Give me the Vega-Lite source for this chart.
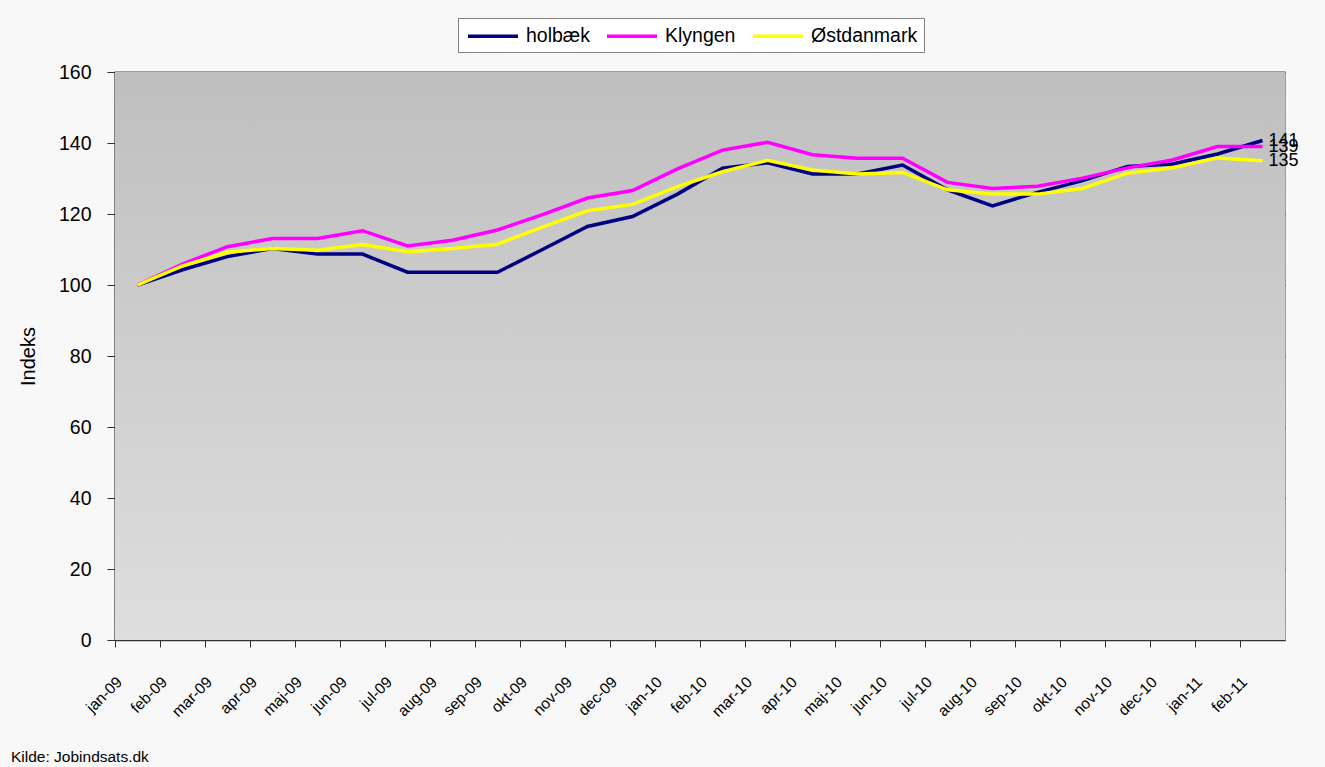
{
  "$schema": "https://vega.github.io/schema/vega-lite/v6.json",
  "autosize": {"type": "none"},
  "width": 1170,
  "height": 568,
  "padding": {"left": 115, "top": 72, "right": 40, "bottom": 127},
  "background": "#f8f8f8",
  "config": {
    "font": "Liberation Sans",
    "view": {"stroke": "#808080", "strokeWidth": 1.5}
  },
  "title": {
    "text": "Kilde: Jobindsats.dk",
    "orient": "bottom",
    "anchor": "start",
    "frame": "group",
    "dx": -104,
    "dy": 26,
    "fontSize": 15.5,
    "fontWeight": "normal",
    "color": "#000000",
    "font": "Liberation Sans"
  },
  "datasets": {
    "bg": [{"lo": 0, "hi": 160}],
    "series": [
      {"month": "jan-09", "holbæk": 100, "Klyngen": 100, "Østdanmark": 100},
      {"month": "feb-09", "holbæk": 104.3, "Klyngen": 105.9, "Østdanmark": 105.4},
      {"month": "mar-09", "holbæk": 108, "Klyngen": 110.8, "Østdanmark": 109.2},
      {"month": "apr-09", "holbæk": 110.3, "Klyngen": 113.1, "Østdanmark": 110.3},
      {"month": "maj-09", "holbæk": 108.7, "Klyngen": 113.1, "Østdanmark": 109.8},
      {"month": "jun-09", "holbæk": 108.7, "Klyngen": 115.3, "Østdanmark": 111.4},
      {"month": "jul-09", "holbæk": 103.6, "Klyngen": 111, "Østdanmark": 109.4},
      {"month": "aug-09", "holbæk": 103.6, "Klyngen": 112.6, "Østdanmark": 110.3},
      {"month": "sep-09", "holbæk": 103.6, "Klyngen": 115.5, "Østdanmark": 111.5},
      {"month": "okt-09", "holbæk": 110, "Klyngen": 119.8, "Østdanmark": 116.3},
      {"month": "nov-09", "holbæk": 116.5, "Klyngen": 124.5, "Østdanmark": 120.9},
      {"month": "dec-09", "holbæk": 119.3, "Klyngen": 126.6, "Østdanmark": 122.7},
      {"month": "jan-10", "holbæk": 125.6, "Klyngen": 132.7, "Østdanmark": 127.7},
      {"month": "feb-10", "holbæk": 132.9, "Klyngen": 138, "Østdanmark": 131.9},
      {"month": "mar-10", "holbæk": 134.4, "Klyngen": 140.2, "Østdanmark": 135.1},
      {"month": "apr-10", "holbæk": 131.3, "Klyngen": 136.7, "Østdanmark": 132.4},
      {"month": "maj-10", "holbæk": 131.3, "Klyngen": 135.7, "Østdanmark": 131.3},
      {"month": "jun-10", "holbæk": 133.8, "Klyngen": 135.7, "Østdanmark": 131.7},
      {"month": "jul-10", "holbæk": 126.8, "Klyngen": 128.9, "Østdanmark": 126.8},
      {"month": "aug-10", "holbæk": 122.3, "Klyngen": 127.2, "Østdanmark": 125.6},
      {"month": "sep-10", "holbæk": 126.1, "Klyngen": 127.8, "Østdanmark": 125.6},
      {"month": "okt-10", "holbæk": 129.4, "Klyngen": 130.1, "Østdanmark": 127.2},
      {"month": "nov-10", "holbæk": 133.4, "Klyngen": 133, "Østdanmark": 131.5},
      {"month": "dec-10", "holbæk": 134.1, "Klyngen": 135.2, "Østdanmark": 133},
      {"month": "jan-11", "holbæk": 136.9, "Klyngen": 139, "Østdanmark": 135.8},
      {"month": "feb-11", "holbæk": 140.7, "Klyngen": 139, "Østdanmark": 135}
    ]
  },
  "layer": [
    {
      "data": {"name": "bg"},
      "mark": {
        "type": "rect",
        "color": {
          "gradient": "linear",
          "x1": 0, "y1": 0, "x2": 0, "y2": 1,
          "stops": [
            {"offset": 0, "color": "#bfbfbf"},
            {"offset": 1, "color": "#dedede"}
          ]
        }
      },
      "encoding": {
        "y": {"field": "lo", "type": "quantitative", "scale": {"domain": [0, 160]}},
        "y2": {"field": "hi"}
      }
    },
    {
      "data": {"name": "series"},
      "transform": [
        {"fold": ["holbæk", "Klyngen", "Østdanmark"], "as": ["serie", "value"]}
      ],
      "layer": [
        {
          "mark": {"type": "line", "strokeWidth": 3.5, "strokeJoin": "miter"},
          "encoding": {
            "x": {
              "field": "month",
              "type": "ordinal",
              "sort": null,
              "bandPosition": 0.5,
              "scale": {"type": "band", "paddingInner": 0, "paddingOuter": 0},
              "axis": {
                "title": null,
                "bandPosition": 0,
                "labelAngle": -45,
                "labelAlign": "right",
                "labelBaseline": "middle",
                "labelOffset": -18,
                "labelPadding": 32,
                "labelFontSize": 15.5,
                "labelColor": "#000000",
                "tickSize": 7,
                "tickColor": "#303030",
                "domainColor": "#303030",
                "domainWidth": 1.5,
                "grid": false
              }
            },
            "y": {
              "field": "value",
              "type": "quantitative",
              "scale": {"domain": [0, 160]},
              "axis": {
                "title": "Indeks",
                "titleFontSize": 20,
                "titleFontWeight": "normal",
                "titleColor": "#000000",
                "titlePadding": 20,
                "values": [0, 20, 40, 60, 80, 100, 120, 140, 160],
                "labelFontSize": 19.5,
                "labelColor": "#000000",
                "labelPadding": 16,
                "tickSize": 8,
                "tickColor": "#303030",
                "domainColor": "#303030",
                "domainWidth": 1.5,
                "grid": true,
                "gridColor": "#303030",
                "gridWidth": 1
              }
            },
            "color": {
              "field": "serie",
              "type": "nominal",
              "sort": ["holbæk", "Klyngen", "Østdanmark"],
              "scale": {
                "domain": ["holbæk", "Klyngen", "Østdanmark"],
                "range": ["#000080", "#ff00ff", "#ffff00"]
              },
              "legend": {
                "title": null,
                "orient": "none",
                "direction": "horizontal",
                "legendX": 343,
                "legendY": -54,
                "symbolType": "M-2.5,0H2.5",
                "symbolSize": 400,
                "symbolStrokeWidth": 3.5,
                "symbolOffset": 17,
                "labelFontSize": 19.5,
                "labelColor": "#000000",
                "labelOffset": 21,
                "columnPadding": 10,
                "fillColor": "#ffffff",
                "strokeColor": "#808080",
                "padding": 6
              }
            }
          }
        },
        {
          "transform": [{"filter": "datum.month === 'feb-11'"}],
          "mark": {"type": "text", "align": "left", "baseline": "middle", "dx": 6, "fontSize": 18, "color": "#000000"},
          "encoding": {
            "x": {"field": "month", "type": "ordinal", "sort": null, "bandPosition": 0.5},
            "y": {"field": "value", "type": "quantitative"},
            "text": {"field": "value", "type": "quantitative", "format": ".0f"}
          }
        }
      ]
    }
  ]
}
